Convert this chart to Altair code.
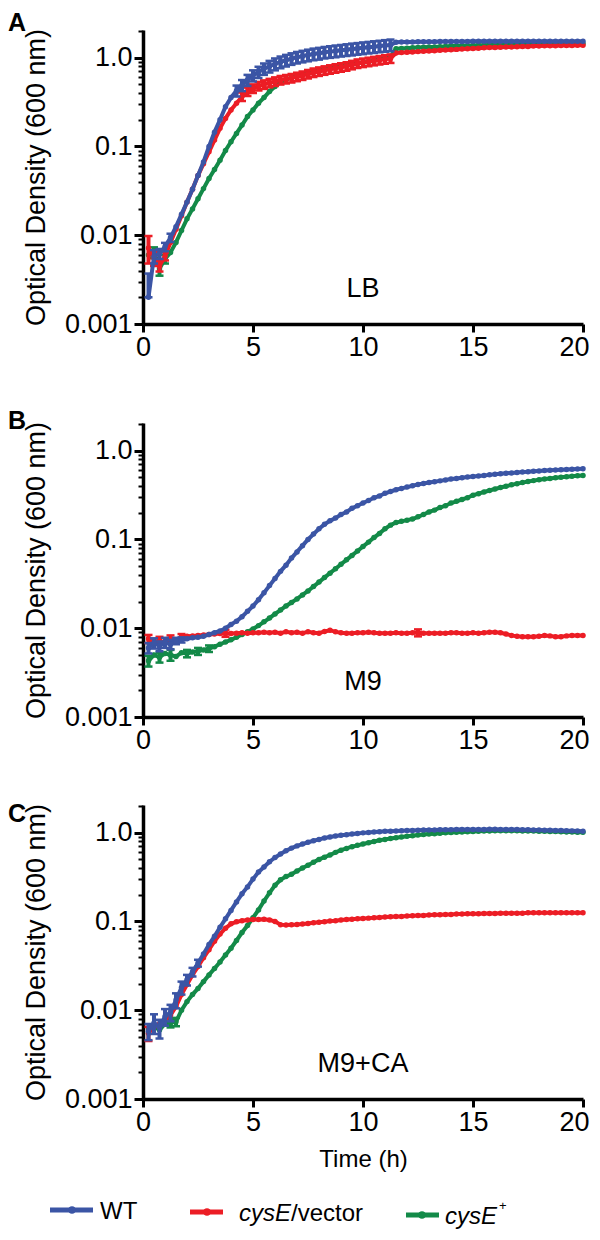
import altair as alt
import pandas as pd

FONT = "Liberation Sans"
TIME = [round(0.25 * i, 2) for i in range(1, 81)]
SERIES = ["WT", "cysE/vector", "cysE+"]
COLORS = {"WT": "#3B55A5", "cysE/vector": "#EC1D25", "cysE+": "#138A48"}
DRAW_ORDER = ["cysE+", "cysE/vector", "WT"]

# ---------------- Panel A (LB) ----------------
A_WT = [0.0020, 0.0058, 0.0062, 0.0074, 0.0094, 0.0125, 0.0172, 0.0236,
        0.033, 0.047, 0.067, 0.100, 0.145, 0.200, 0.280, 0.355,
        0.425, 0.490, 0.560, 0.630, 0.690, 0.750, 0.800, 0.850,
        0.895, 0.935, 0.975, 1.01, 1.04, 1.07, 1.10, 1.12,
        1.15, 1.17, 1.19, 1.21, 1.23, 1.25, 1.27, 1.29,
        1.31, 1.33, 1.35, 1.37, 1.39, 1.49, 1.50, 1.50,
        1.50, 1.51, 1.51, 1.51, 1.51, 1.52, 1.52, 1.52,
        1.52, 1.52, 1.52, 1.53, 1.53, 1.53, 1.53, 1.53,
        1.53, 1.53, 1.53, 1.53, 1.53, 1.53, 1.53, 1.53,
        1.53, 1.53, 1.53, 1.53, 1.53, 1.53, 1.53, 1.53]
A_RED = [0.0072, 0.0055, 0.0045, 0.0058, 0.0083, 0.0117, 0.0166, 0.0236,
         0.033, 0.047, 0.064, 0.087, 0.118, 0.160, 0.207, 0.258,
         0.307, 0.365, 0.415, 0.450, 0.480, 0.500, 0.520, 0.540,
         0.560, 0.575, 0.590, 0.610, 0.630, 0.655, 0.680, 0.700,
         0.720, 0.740, 0.760, 0.780, 0.800, 0.830, 0.860, 0.880,
         0.900, 0.920, 0.940, 0.960, 0.980, 1.13, 1.14, 1.15,
         1.16, 1.17, 1.18, 1.19, 1.20, 1.21, 1.22, 1.23,
         1.24, 1.25, 1.26, 1.27, 1.28, 1.29, 1.30, 1.30,
         1.31, 1.32, 1.32, 1.33, 1.34, 1.34, 1.35, 1.35,
         1.36, 1.36, 1.36, 1.37, 1.37, 1.37, 1.38, 1.38]
A_GRN = [0.0060, 0.0064, 0.0042, 0.0054, 0.0064, 0.0083, 0.0113, 0.0153,
         0.0198, 0.0258, 0.0335, 0.0435, 0.055, 0.070, 0.090, 0.113,
         0.140, 0.174, 0.217, 0.258, 0.307, 0.355, 0.416, 0.474,
         0.530, 0.565, 0.595, 0.625, 0.650, 0.675, 0.700, 0.720,
         0.740, 0.760, 0.780, 0.800, 0.820, 0.840, 0.860, 0.880,
         0.900, 0.930, 0.960, 0.990, 1.02, 1.26, 1.27, 1.28,
         1.29, 1.30, 1.31, 1.32, 1.32, 1.33, 1.34, 1.35,
         1.35, 1.36, 1.36, 1.37, 1.38, 1.38, 1.39, 1.39,
         1.40, 1.40, 1.41, 1.41, 1.41, 1.42, 1.42, 1.42,
         1.43, 1.43, 1.43, 1.43, 1.44, 1.44, 1.44, 1.44]
# error bars: (time, minus, plus)
A_WT_SD = [(0.25, 0.0, 0.0017), (0.5, 0.0010, 0.0010), (0.75, 0.0008, 0.0008),
           (1.0, 0.0008, 0.0008), (1.25, 0.0010, 0.0010),
           (4.25, 0.06, 0.06), (4.5, 0.07, 0.07), (4.75, 0.08, 0.08), (5.0, 0.09, 0.09),
           (5.25, 0.10, 0.10), (5.5, 0.11, 0.11), (5.75, 0.12, 0.12), (6.0, 0.13, 0.13),
           (6.25, 0.135, 0.135), (6.5, 0.14, 0.14), (6.75, 0.145, 0.145), (7.0, 0.15, 0.15),
           (7.25, 0.155, 0.155), (7.5, 0.16, 0.16), (7.75, 0.165, 0.165), (8.0, 0.17, 0.17),
           (8.25, 0.17, 0.17), (8.5, 0.175, 0.175), (8.75, 0.18, 0.18), (9.0, 0.18, 0.18),
           (9.25, 0.185, 0.185), (9.5, 0.19, 0.19), (9.75, 0.19, 0.19), (10.0, 0.195, 0.195),
           (10.25, 0.195, 0.195), (10.5, 0.2, 0.2), (10.75, 0.2, 0.2), (11.0, 0.205, 0.205),
           (11.25, 0.21, 0.21)]
A_RED_SD = [(0.25, 0.0024, 0.0026), (0.5, 0.0010, 0.0010), (0.75, 0.0006, 0.0006),
            (1.0, 0.0006, 0.0006),
            (4.5, 0.04, 0.04), (4.75, 0.045, 0.045), (5.0, 0.05, 0.05), (5.25, 0.053, 0.053),
            (5.5, 0.055, 0.055), (5.75, 0.057, 0.057), (6.0, 0.06, 0.06), (6.25, 0.062, 0.062),
            (6.5, 0.063, 0.063), (6.75, 0.065, 0.065), (7.0, 0.067, 0.067), (7.25, 0.069, 0.069),
            (7.5, 0.072, 0.072), (7.75, 0.075, 0.075), (8.0, 0.077, 0.077), (8.25, 0.079, 0.079),
            (8.5, 0.081, 0.081), (8.75, 0.084, 0.084), (9.0, 0.086, 0.086), (9.25, 0.088, 0.088),
            (9.5, 0.091, 0.091), (9.75, 0.095, 0.095), (10.0, 0.097, 0.097), (10.25, 0.099, 0.099),
            (10.5, 0.101, 0.101), (10.75, 0.103, 0.103), (11.0, 0.106, 0.106), (11.25, 0.108, 0.108)]
A_GRN_SD = [(0.5, 0.0009, 0.0009), (0.75, 0.0007, 0.0007), (1.0, 0.0006, 0.0006)]

# ---------------- Panel B (M9) ----------------
B_WT = [0.0060, 0.0068, 0.0063, 0.0069, 0.0066, 0.0072, 0.0074, 0.0076,
        0.0078, 0.0079, 0.0081, 0.0085, 0.0089, 0.0093, 0.0100, 0.0110,
        0.0120, 0.0135, 0.0155, 0.0178, 0.0209, 0.0251, 0.0302, 0.0363,
        0.0437, 0.0513, 0.0617, 0.0724, 0.0851, 0.100, 0.115, 0.132,
        0.148, 0.162, 0.174, 0.191, 0.204, 0.224, 0.240, 0.257,
        0.275, 0.295, 0.309, 0.331, 0.347, 0.363, 0.376, 0.389,
        0.403, 0.417, 0.427, 0.437, 0.447, 0.457, 0.468, 0.479,
        0.487, 0.495, 0.504, 0.513, 0.519, 0.525, 0.534, 0.543,
        0.550, 0.556, 0.562, 0.569, 0.574, 0.579, 0.586, 0.592,
        0.598, 0.603, 0.606, 0.610, 0.613, 0.617, 0.621, 0.624]
B_RED = [0.0076, 0.0070, 0.0073, 0.0068, 0.0076, 0.0071, 0.0080, 0.0081,
         0.0082, 0.0083, 0.0084, 0.0085, 0.0086, 0.0087, 0.0088, 0.0087,
         0.0088, 0.0089, 0.0088, 0.0089, 0.0089, 0.0090, 0.0089, 0.0090,
         0.0088, 0.0091, 0.0089, 0.0090, 0.0088, 0.0091, 0.0089, 0.0088,
         0.0092, 0.0095, 0.0091, 0.0089, 0.0088, 0.0088, 0.0089, 0.0089,
         0.0090, 0.0089, 0.0088, 0.0088, 0.0088, 0.0089, 0.0088, 0.0088,
         0.0089, 0.0089, 0.0088, 0.0088, 0.0088, 0.0088, 0.0088, 0.0089,
         0.0089, 0.0088, 0.0088, 0.0089, 0.0088, 0.0089, 0.0090, 0.0090,
         0.0089, 0.0086, 0.0083, 0.0081, 0.0080, 0.0080, 0.0080, 0.0081,
         0.0083, 0.0082, 0.0080, 0.0080, 0.0082, 0.0083, 0.0083, 0.0083]
B_GRN = [0.0043, 0.0050, 0.0047, 0.0052, 0.0050, 0.0048, 0.0053, 0.0052,
         0.0054, 0.0055, 0.0057, 0.0059, 0.0062, 0.0066, 0.0070, 0.0074,
         0.0079, 0.0085, 0.0091, 0.0098, 0.0107, 0.0118, 0.0130, 0.0145,
         0.0160, 0.0178, 0.0195, 0.0214, 0.0237, 0.0263, 0.0295, 0.0331,
         0.0372, 0.0417, 0.0468, 0.0525, 0.0589, 0.0661, 0.0741, 0.0832,
         0.0933, 0.105, 0.117, 0.132, 0.145, 0.155, 0.160, 0.165,
         0.170, 0.180, 0.191, 0.204, 0.214, 0.229, 0.240, 0.257,
         0.269, 0.282, 0.295, 0.315, 0.328, 0.342, 0.356, 0.370,
         0.385, 0.398, 0.412, 0.425, 0.437, 0.449, 0.460, 0.470,
         0.479, 0.487, 0.495, 0.502, 0.509, 0.515, 0.521, 0.526]
B_WT_SD = [(0.25, 0.0008, 0.0008), (0.5, 0.0009, 0.0009), (0.75, 0.0008, 0.0008),
           (1.0, 0.0009, 0.0009), (1.25, 0.0008, 0.0008), (1.5, 0.0006, 0.0006),
           (1.75, 0.0005, 0.0005)]
B_RED_SD = [(0.25, 0.0008, 0.0008), (0.75, 0.0007, 0.0007), (1.25, 0.0007, 0.0007),
            (1.75, 0.0006, 0.0006), (3.75, 0.0008, 0.0008), (12.5, 0.0008, 0.0008)]
B_GRN_SD = [(0.25, 0.0006, 0.0006), (0.75, 0.0006, 0.0006), (1.25, 0.0007, 0.0007),
            (2.0, 0.0005, 0.0005), (2.5, 0.0005, 0.0005), (3.0, 0.0005, 0.0005)]

# ---------------- Panel C (M9+CA) ----------------
C_WT = [0.0058, 0.0072, 0.0063, 0.0085, 0.0095, 0.0130, 0.0180, 0.0220,
        0.0270, 0.0340, 0.0430, 0.0550, 0.0680, 0.0860, 0.107, 0.133,
        0.166, 0.205, 0.245, 0.300, 0.360, 0.410, 0.470, 0.525,
        0.575, 0.625, 0.670, 0.710, 0.745, 0.780, 0.810, 0.840,
        0.870, 0.895, 0.915, 0.935, 0.950, 0.965, 0.980, 0.995,
        1.005, 1.015, 1.025, 1.035, 1.040, 1.045, 1.050, 1.055,
        1.060, 1.065, 1.070, 1.072, 1.075, 1.078, 1.080, 1.082,
        1.084, 1.085, 1.086, 1.087, 1.088, 1.089, 1.090, 1.090,
        1.089, 1.088, 1.086, 1.084, 1.082, 1.079, 1.075, 1.072,
        1.068, 1.064, 1.060, 1.056, 1.052, 1.048, 1.044, 1.040]
C_RED = [0.0055, 0.0065, 0.0070, 0.0078, 0.0088, 0.0110, 0.0150, 0.0195,
         0.0250, 0.0310, 0.0390, 0.0480, 0.0600, 0.0720, 0.0840, 0.0940,
         0.0990, 0.102, 0.104, 0.105, 0.105, 0.106, 0.104, 0.100,
         0.0920, 0.0910, 0.0920, 0.0925, 0.0935, 0.0950, 0.0965, 0.0980,
         0.0995, 0.101, 0.102, 0.104, 0.105, 0.106, 0.107, 0.108,
         0.109, 0.110, 0.111, 0.112, 0.113, 0.114, 0.114, 0.115,
         0.116, 0.117, 0.117, 0.118, 0.119, 0.119, 0.120, 0.120,
         0.121, 0.121, 0.122, 0.122, 0.122, 0.123, 0.123, 0.123,
         0.124, 0.124, 0.124, 0.124, 0.124, 0.125, 0.125, 0.125,
         0.125, 0.125, 0.125, 0.125, 0.125, 0.125, 0.125, 0.125]
C_GRN = [0.0062, 0.0066, 0.0060, 0.0070, 0.0072, 0.0074, 0.0100, 0.0125,
         0.0150, 0.0176, 0.0210, 0.0250, 0.0295, 0.0350, 0.0420, 0.0500,
         0.0610, 0.0750, 0.0900, 0.110, 0.135, 0.170, 0.210, 0.255,
         0.295, 0.320, 0.340, 0.370, 0.400, 0.430, 0.465, 0.500,
         0.530, 0.560, 0.600, 0.635, 0.665, 0.695, 0.720, 0.745,
         0.770, 0.795, 0.820, 0.840, 0.860, 0.878, 0.895, 0.910,
         0.925, 0.940, 0.955, 0.965, 0.975, 0.985, 0.995, 1.005,
         1.012, 1.020, 1.027, 1.033, 1.038, 1.042, 1.046, 1.048,
         1.050, 1.050, 1.050, 1.049, 1.047, 1.045, 1.042, 1.039,
         1.035, 1.032, 1.028, 1.024, 1.020, 1.016, 1.012, 1.008]
C_WT_SD = [(0.25, 0.0012, 0.0012), (0.5, 0.0018, 0.0018), (0.75, 0.0015, 0.0015),
           (1.0, 0.0018, 0.0018), (1.25, 0.0020, 0.0020), (1.5, 0.0025, 0.0025),
           (1.75, 0.0030, 0.0030), (2.0, 0.0030, 0.0030), (2.25, 0.0030, 0.0030),
           (2.5, 0.0030, 0.0030)]
C_RED_SD = [(0.25, 0.0010, 0.0010)]
C_GRN_SD = [(1.25, 0.0008, 0.0008), (1.5, 0.0008, 0.0008)]

PANELS = [
    ("A", "LB", A_WT, A_RED, A_GRN, A_WT_SD, A_RED_SD, A_GRN_SD),
    ("B", "M9", B_WT, B_RED, B_GRN, B_WT_SD, B_RED_SD, B_GRN_SD),
    ("C", "M9+CA", C_WT, C_RED, C_GRN, C_WT_SD, C_RED_SD, C_GRN_SD),
]
LETTER_Y = {"A": -19, "B": -14, "C": -3}
MEDIUM_POS = (10, 0.0025)

X_TICKS = [0, 5, 10, 15, 20]
Y_TICKS = sorted({round(k * d, 6) for d in (0.001, 0.01, 0.1, 1.0)
                  for k in range(1, 10) if k * d <= 2.05})
MAJOR = "datum.value == 0.001 || datum.value == 0.01 || datum.value == 0.1 || datum.value == 1"
Y_LABELS = ("datum.value == 1 ? '1.0' : (datum.value == 0.1 ? '0.1' : "
            "(datum.value == 0.01 ? '0.01' : (datum.value == 0.001 ? '0.001' : '')))")
LAST_X = "datum.value == 20"

W, H = 440, 294


def xenc(show_title):
    kw = dict(values=X_TICKS, format="d", labelFontSize=27, labelPadding=2,
              labelFlush=False,
              labelAlign={"condition": {"test": LAST_X, "value": "right"}, "value": "center"},
              labelOffset={"condition": {"test": LAST_X, "value": 6}, "value": 0},
              tickSize=8, titleFontSize=24, titlePadding=12)
    ax = alt.Axis(title="Time (h)", **kw) if show_title else alt.Axis(title=None, **kw)
    return alt.X("t:Q", scale=alt.Scale(domain=[0, 20], nice=False, zero=False), axis=ax)


def yenc(field):
    return alt.Y(f"{field}:Q",
                 scale=alt.Scale(type="log", domain=[0.001, 2.05], nice=False),
                 axis=alt.Axis(values=Y_TICKS, labelExpr=Y_LABELS, labelFontSize=27,
                               labelPadding=2, labelFlush=False,
                               title="Optical Density (600 nm)",
                               titleFontSize=27, titlePadding=14,
                               tickSize={"condition": {"test": MAJOR, "value": 9}, "value": 5},
                               tickWidth={"condition": {"test": MAJOR, "value": 3}, "value": 2}))


def panel(letter, medium, wt, red, grn, wt_sd, red_sd, grn_sd, last):
    x = xenc(last)
    vals = {"WT": wt, "cysE/vector": red, "cysE+": grn}
    sds = {"WT": wt_sd, "cysE/vector": red_sd, "cysE+": grn_sd}
    layers = []
    for name in DRAW_ORDER:
        col = COLORS[name]
        v = vals[name]
        df = pd.DataFrame({"t": TIME, "od": v})
        if sds[name]:
            eb = pd.DataFrame([{"t": t, "lo": v[TIME.index(t)] - m, "hi": v[TIME.index(t)] + p}
                               for t, m, p in sds[name]])
            caps = pd.concat([eb[["t", "lo"]].rename(columns={"lo": "od"}),
                              eb[["t", "hi"]].rename(columns={"hi": "od"})])
            layers.append(alt.Chart(eb).mark_rule(color=col, strokeWidth=4)
                          .encode(x=x, y=yenc("lo"), y2="hi:Q"))
            layers.append(alt.Chart(caps).mark_tick(color=col, orient="horizontal",
                                                     size=8, thickness=2.5, opacity=1)
                          .encode(x=x, y=yenc("od")))
        layers.append(alt.Chart(df).mark_line(color=col, strokeWidth=4)
                      .encode(x=x, y=yenc("od")))
        layers.append(alt.Chart(df).mark_circle(color=col, size=30, opacity=1)
                      .encode(x=x, y=yenc("od")))
    lab = pd.DataFrame({"t": [MEDIUM_POS[0]], "od": [MEDIUM_POS[1]], "label": [medium]})
    layers.append(alt.Chart(lab).mark_text(fontSize=27, align="center", baseline="middle",
                                           color="black")
                  .encode(x=x, y=yenc("od"), text="label:N"))
    one = pd.DataFrame({"k": [0]})
    layers.append(alt.Chart(one).mark_text(fontSize=25, fontWeight="bold", align="left",
                                           baseline="top", color="black", text=letter)
                  .encode(x=alt.value(-135), y=alt.value(LETTER_Y[letter])))
    if last:
        # manual legend (mixed italic text)
        leg_lines = [("WT", -93, -50, -71, 405), ("cysE/vector", 47, 80, 64, 407),
                     ("cysE+", 263, 296, 279, 410)]
        for name, x0, x1, cx, yy in leg_lines:
            col = COLORS[name]
            layers.append(alt.Chart(one).mark_rule(color=col, strokeWidth=5)
                          .encode(x=alt.value(x0), x2=alt.value(x1), y=alt.value(yy)))
            layers.append(alt.Chart(one).mark_circle(color=col, size=55, opacity=1)
                          .encode(x=alt.value(cx), y=alt.value(yy)))
        leg_text = [("WT", -43, 407, "left", "normal", 24),
                    ("cysE", 148, 409, "right", "italic", 24),
                    ("/vector", 148, 409, "left", "normal", 24),
                    ("cysE", 354, 412, "right", "italic", 24),
                    ("+", 356, 401, "left", "normal", 13)]
        for txt, tx, ty, al, st, fs in leg_text:
            layers.append(alt.Chart(one).mark_text(fontSize=fs, align=al, baseline="middle",
                                                   fontStyle=st, color="black", text=txt)
                          .encode(x=alt.value(tx), y=alt.value(ty)))
    return alt.layer(*layers).properties(width=W, height=H)


charts = [panel(*p, last=(i == 2)) for i, p in enumerate(PANELS)]

chart = (alt.vconcat(*charts, spacing=49)
         .properties(padding={"left": 0, "top": 3, "right": 0, "bottom": 0})
         .configure(font=FONT)
         .configure_view(stroke=None)
         .configure_axis(domainColor="black", domainWidth=3.5, tickColor="black",
                         tickWidth=3, labelColor="black", titleColor="black",
                         grid=False, titleFontWeight="normal", labelFont=FONT,
                         titleFont=FONT))

chart.save("out.html", embed_options={"renderer": "svg", "actions": False})
